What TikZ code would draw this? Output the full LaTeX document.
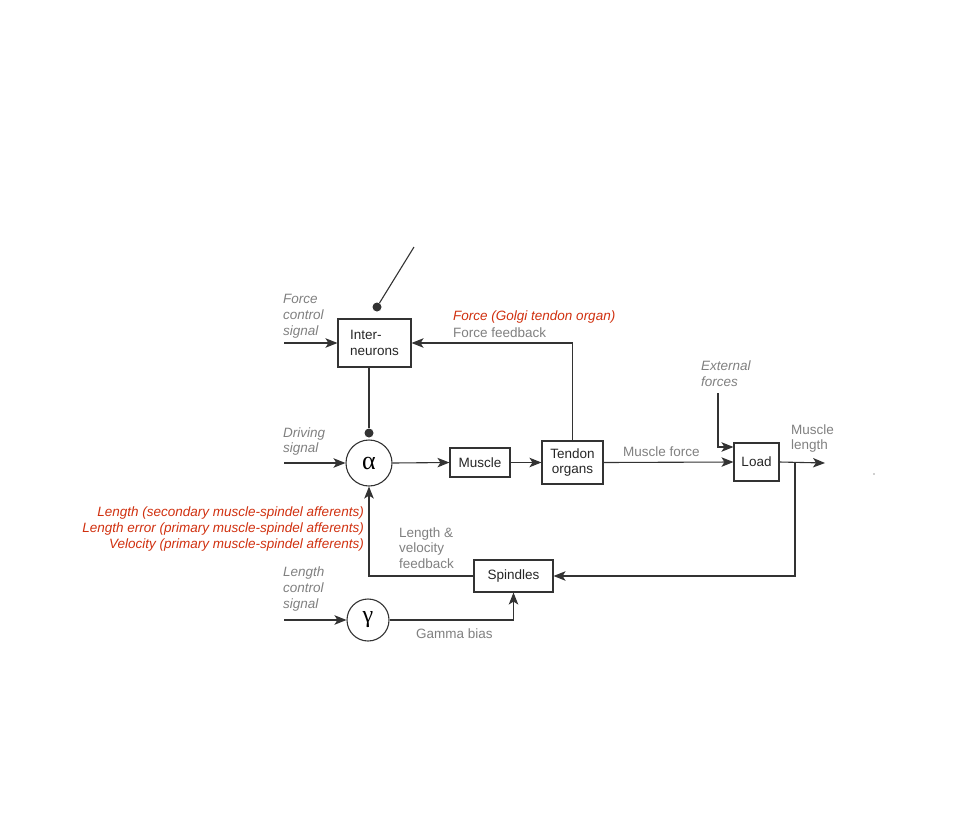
\documentclass[tikz,border=0pt]{standalone}
\usepackage{fontspec}
\setmainfont{Liberation Sans}
\newfontfamily\greekfont{Liberation Serif}
\usetikzlibrary{arrows.meta}
\definecolor{lin}{HTML}{333333}
\definecolor{gtx}{HTML}{808080}
\definecolor{rtx}{HTML}{D0300F}
\begin{document}
\begin{tikzpicture}[x=1pt,y=-1pt,
  every node/.style={font=\fontsize{13.5}{15.8}\selectfont},
  blk/.style={draw=lin,line width=1.1pt,minimum width=#1,inner sep=0pt,align=center,text=black!85},
  circ/.style={draw=lin,line width=1.1pt,circle,inner sep=0pt},
  lbl/.style={text=gtx,inner sep=0pt,align=left},
  ilbl/.style={text=gtx,inner sep=0pt,align=left,font=\fontsize{13.5}{15.8}\selectfont\itshape},
  rlbl/.style={text=rtx,inner sep=0pt,align=right,font=\fontsize{13.5}{16}\selectfont\itshape},
  conn/.style={draw=lin,line width=1.1pt},
  arr/.style={conn,-{Stealth[length=12pt,width=9.5pt,inset=3pt]}},
  dotc/.style={circle,fill=lin,inner sep=0pt,minimum size=9pt}
]
\useasboundingbox (0,0) rectangle (960,822);
% blocks
\node[blk=73pt,minimum height=48pt,align=left] (inter) at (374.5,343) {Inter-\\neurons};
\node[circ,minimum size=46pt] (alpha) at (369,463) {\greekfont\fontsize{26}{26}\selectfont α};
\node[blk=60pt,minimum height=29pt] (muscle) at (480,462.5) {Muscle};
\node[blk=61pt,minimum height=43pt] (tendon) at (572.5,462.5) {Tendon\\organs};
\node[blk=45pt,minimum height=38pt] (load) at (756.5,462) {Load};
\node[blk=79pt,minimum height=32pt] (spind) at (513.5,576) {Spindles};
\node[circ,minimum size=42pt] (gamma) at (368,620) {\greekfont\fontsize{24}{24}\selectfont γ};
% dots
\node[dotc] (d1) at (377,307) {};
\coordinate (d1end) at (414,247);
\node[dotc] (d2) at (369,433) {};
% coordinates
\coordinate (fcs) at (284,343);
\coordinate (drs) at (284,463);
\coordinate (lcs) at (284,620);
\coordinate (ml) at (825,463);
\coordinate (br) at (795,463);
\coordinate (ext) at (718,393);
% connectors
\draw[conn] (d1) -- (d1end);
\draw[arr] (fcs) -- (inter.west);
\draw[conn] (inter.south -| d2) -- (d2);
\draw[arr] (drs) -- (alpha.west);
\draw[arr] (alpha.east) -- (muscle.west);
\draw[arr] (muscle.east) -- (tendon.west);
\draw[arr] (tendon.north) |- (inter.east);
\draw[arr] (tendon.east) -- (load.west);
\draw[arr] (ext) |- ([yshift=15pt]load.west);
\draw[arr] (load.east) -- (ml);
\draw[arr] (br) |- (spind.east);
\draw[arr] (spind.west) -| (alpha.south);
\draw[arr] (lcs) -- (gamma.west);
\draw[arr] (gamma.east) -| (spind.south);
% labels
\node[ilbl,anchor=west] (tfcs) at (283,316.5) {Force\\control\\signal};
\node[ilbl,anchor=west] (tdrs) at (283,441.5) {Driving\\signal};
\node[ilbl,anchor=west] (tlcs) at (283,589) {Length\\control\\signal};
\node[rlbl,anchor=west] (tgolgi) at (453,317) {Force (Golgi tendon organ)};
\node[lbl,anchor=west] (tff) at (453,333) {Force feedback};
\node[lbl,anchor=west] (tmf) at (623,452) {Muscle force};
\node[ilbl,anchor=west] (text) at (701,373.5) {External\\forces};
\node[lbl,anchor=west] (tml) at (791,438.5) {Muscle\\length};
\node[lbl,anchor=west] (tlvf) at (399,548) {Length \&\\velocity\\feedback};
\node[lbl,anchor=west] (tgb) at (416,634) {Gamma bias};
\node[rlbl,anchor=east] (tred) at (364,529) {Length (secondary muscle-spindel afferents)\\Length error (primary muscle-spindel afferents)\\Velocity (primary muscle-spindel afferents)};
\fill[lin] (874,474) circle (0.6pt);
\end{tikzpicture}
\end{document}
